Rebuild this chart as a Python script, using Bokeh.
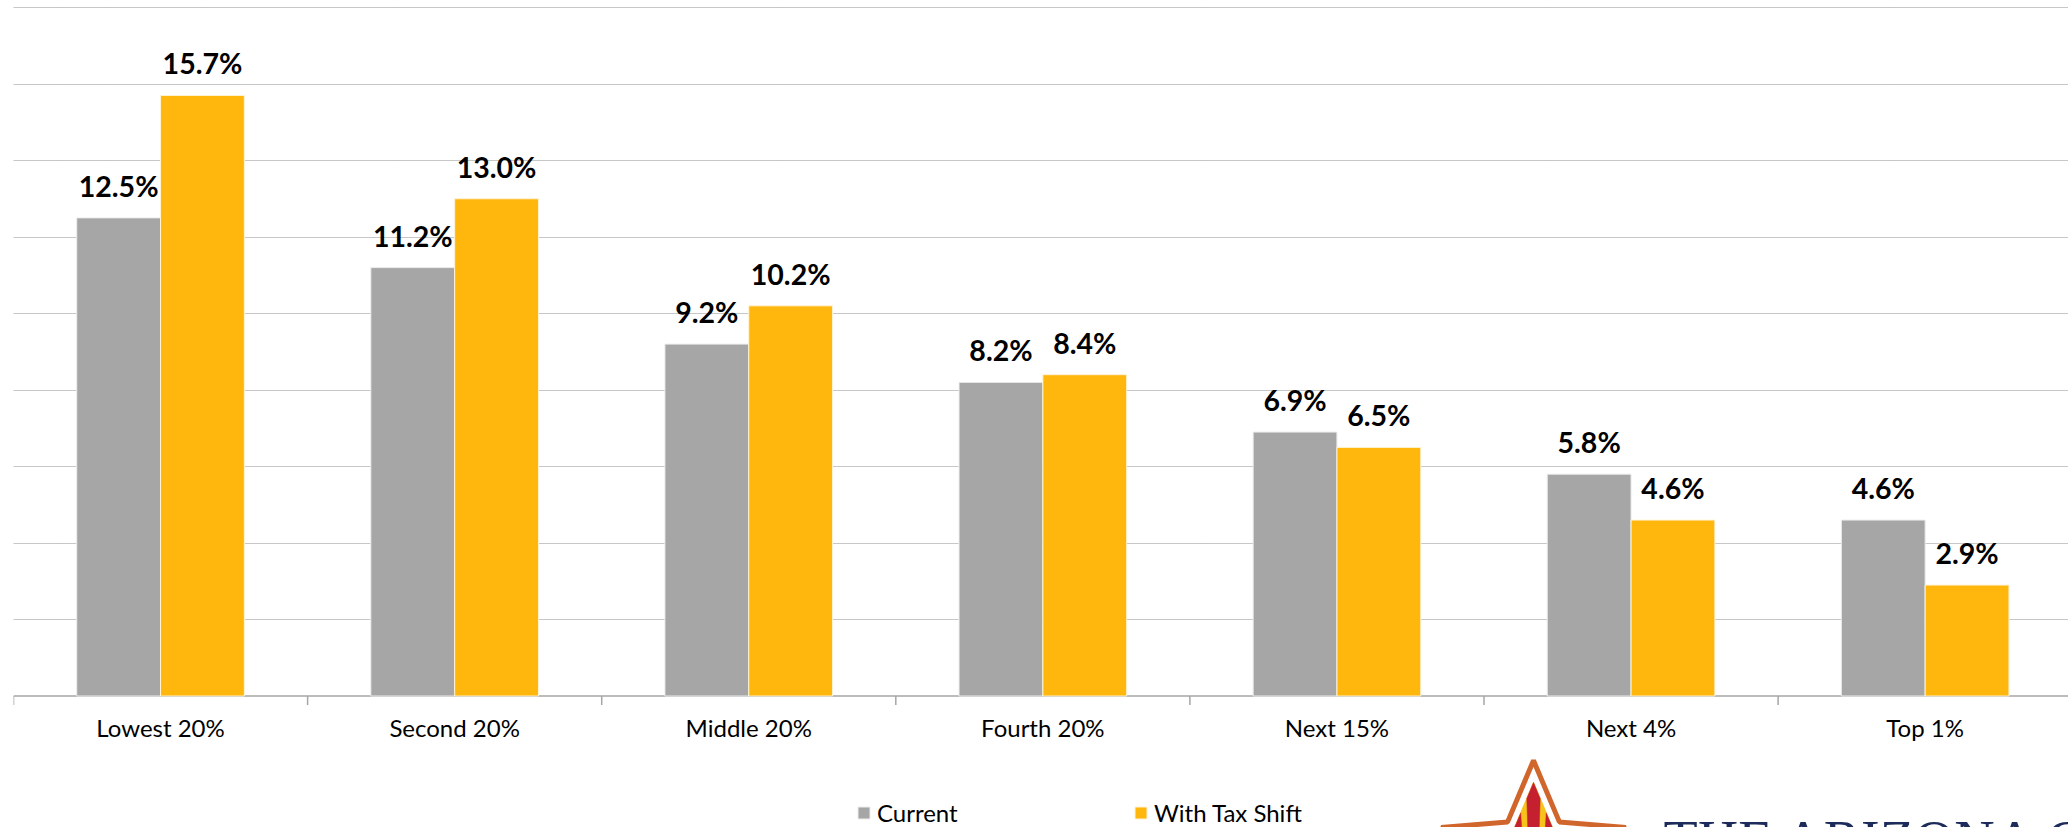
import math
from bokeh.plotting import figure
from bokeh.models import (Range1d, FixedTicker, ColumnDataSource, Legend,
                          LegendItem, Label, PolyAnnotation)
from bokeh.core.properties import value
from bokeh.embed import file_html
from bokeh.resources import INLINE

# ---------------- data ----------------
categories = ["Lowest 20%", "Second 20%", "Middle 20%", "Fourth 20%", "Next 15%", "Next 4%", "Top 1%"]
current = [12.5, 11.2, 9.2, 8.2, 6.9, 5.8, 4.6]
with_tax_shift = [15.7, 13.0, 10.2, 8.4, 6.5, 4.6, 2.9]
series_names = ["Current", "With Tax Shift"]
grid_values = [2, 4, 6, 8, 10, 12, 14, 16, 18]
logo_text = "THE ARIZONA CENTER"

# ---------------- layout ----------------
W, H = 2068, 827
LEFT = 13
FRAME_W = W - LEFT
CAT_PX = 294.1
PX_PER = 38.25
BASE_PX = 695.5
X_END = FRAME_W / CAT_PX
Y_START = -(H - BASE_PX) / PX_PER
Y_END = BASE_PX / PX_PER
BAR_W = 0.285

GRAY = "#A6A6A6"
GOLD = "#FFB60D"
AXIS = "#A6A6A6"

def px2x(px):
    return (px - LEFT) / CAT_PX

def py2y(py):
    return (BASE_PX - py) / PX_PER

n = len(categories)
centers = [i + 0.5 for i in range(n)]
src = ColumnDataSource(dict(
    x_cur=[c - BAR_W / 2 for c in centers],
    x_tax=[c + BAR_W / 2 for c in centers],
    cur=current,
    tax=with_tax_shift,
    cur_lbl=[f"{v:.1f}%" for v in current],
    tax_lbl=[f"{v:.1f}%" for v in with_tax_shift],
))
cat_src = ColumnDataSource(dict(x=centers, y=[0] * n, text=categories))
bounds = list(range(n + 1))
tick_src = ColumnDataSource(dict(x=bounds, y0=[0] * len(bounds),
                                 y1=[-9 / PX_PER] * len(bounds)))

p = figure(width=W, height=H, x_range=Range1d(0, X_END), y_range=Range1d(Y_START, Y_END),
           output_backend="svg", toolbar_location=None,
           x_axis_location=None, y_axis_location=None,
           min_border_left=LEFT, min_border_right=0, min_border_top=0, min_border_bottom=0)
p.outline_line_color = None
p.background_fill_color = "white"
p.border_fill_color = "white"

p.xgrid.visible = False
p.ygrid.ticker = FixedTicker(ticks=grid_values)
p.ygrid.grid_line_color = "#8E8E8E"
p.ygrid.grid_line_dash = "1 1"
p.ygrid.grid_line_width = 1

# category axis (drawn at y = 0)
p.segment(x0=0, y0=0, x1=X_END, y1=0, line_color=AXIS, line_width=1.5)
p.segment(x0="x", y0="y0", x1="x", y1="y1", source=tick_src, line_color=AXIS, line_width=1.5)
p.text(x="x", y="y", text="text", source=cat_src, y_offset=31,
       text_align="center", text_baseline="alphabetic",
       text_font=value("Lato"), text_font_size="24px", text_color="#000000")

r_cur = p.vbar(x="x_cur", top="cur", width=BAR_W, bottom=0, source=src,
               fill_color=GRAY, line_color="#EDEDED", line_width=1)
r_tax = p.vbar(x="x_tax", top="tax", width=BAR_W, bottom=0, source=src,
               fill_color=GOLD, line_color="#FFF3D6", line_width=1)

for xcol, ycol, lcol in (("x_cur", "cur", "cur_lbl"), ("x_tax", "tax", "tax_lbl")):
    p.text(x=xcol, y=ycol, text=lcol, source=src, y_offset=-32,
           text_align="center", text_baseline="alphabetic",
           text_font=value("Lato"), text_font_style="bold",
           text_font_size="28.5px", text_color="#000000")

legend = Legend(items=[LegendItem(label=series_names[0], renderers=[r_cur]),
                       LegendItem(label=series_names[1], renderers=[r_tax])],
                orientation="horizontal", location=(843, 0),
                glyph_width=15, glyph_height=15, label_standoff=6,
                label_width=256, label_height=20, spacing=0, padding=0, margin=0,
                border_line_color=None, background_fill_alpha=0,
                label_text_font="Lato", label_text_font_size="24px",
                label_text_color="#000000")
p.add_layout(legend, "center")

# ---------------- logo (decoration) ----------------
def star(cx, cy, R, r):
    pts = []
    for k in range(10):
        ang = math.radians(-90 + 36 * k)
        rad = R if k % 2 == 0 else r
        pts.append((cx + rad * math.cos(ang), cy + rad * math.sin(ang)))
    return pts

def to_data(pts):
    return [px2x(a) for a, b in pts], [py2y(b) for a, b in pts]

def clip_poly(subject, clip):
    # Sutherland-Hodgman: clip polygon must be convex
    area = sum(clip[i][0] * clip[(i + 1) % len(clip)][1] - clip[(i + 1) % len(clip)][0] * clip[i][1]
               for i in range(len(clip)))
    sgn = 1 if area > 0 else -1

    def inside(pt, a, b):
        return sgn * ((b[0] - a[0]) * (pt[1] - a[1]) - (b[1] - a[1]) * (pt[0] - a[0])) >= 0

    def inter(p1, p2, a, b):
        x1, y1 = p1; x2, y2 = p2; x3, y3 = a; x4, y4 = b
        den = (x1 - x2) * (y3 - y4) - (y1 - y2) * (x3 - x4)
        t = ((x1 - x3) * (y3 - y4) - (y1 - y3) * (x3 - x4)) / den
        return (x1 + t * (x2 - x1), y1 + t * (y2 - y1))

    out = list(subject)
    for i in range(len(clip)):
        a, b = clip[i], clip[(i + 1) % len(clip)]
        inp, out = out, []
        if not inp:
            break
        prev = inp[-1]
        for cur in inp:
            if inside(cur, a, b):
                if not inside(prev, a, b):
                    out.append(inter(prev, cur, a, b))
                out.append(cur)
            elif inside(prev, a, b):
                out.append(inter(prev, cur, a, b))
            prev = cur
    return out

SCX, SCY = 1533, 857
outer = star(SCX, SCY, 97, 44)
inner = star(SCX, SCY, 75, 34)

xs, ys = to_data(outer)
p.add_layout(PolyAnnotation(xs=xs, ys=ys, fill_color="white", fill_alpha=1,
                            line_color="#D0662B", line_alpha=1, line_width=5))
xs, ys = to_data(inner)
p.add_layout(PolyAnnotation(xs=xs, ys=ys, fill_color="#F7C21A", fill_alpha=1,
                            line_color="#F7C21A", line_alpha=1, line_width=1))

OX, OY = SCX, 1000
for a1, a2 in ((-1.9, 1.9), (-7.5, -3.9), (3.9, 7.5), (-15, -11), (11, 15)):
    far = 400
    wedge = [(OX, OY),
             (OX + far * math.sin(math.radians(a1)), OY - far * math.cos(math.radians(a1))),
             (OX + far * math.sin(math.radians(a2)), OY - far * math.cos(math.radians(a2)))]
    poly = clip_poly(inner, wedge)
    if len(poly) >= 3:
        xs, ys = to_data(poly)
        p.add_layout(PolyAnnotation(xs=xs, ys=ys, fill_color="#C4202F", fill_alpha=1,
                                    line_color="#C4202F", line_alpha=1, line_width=0.5))

p.add_layout(Label(x=px2x(1663), y=py2y(840), text=logo_text,
                   text_font="Liberation Serif", text_font_size="56px",
                   text_color="#1C2B5A", text_baseline="alphabetic", text_align="left"))

open("out.html", "w").write(file_html(p, INLINE))
